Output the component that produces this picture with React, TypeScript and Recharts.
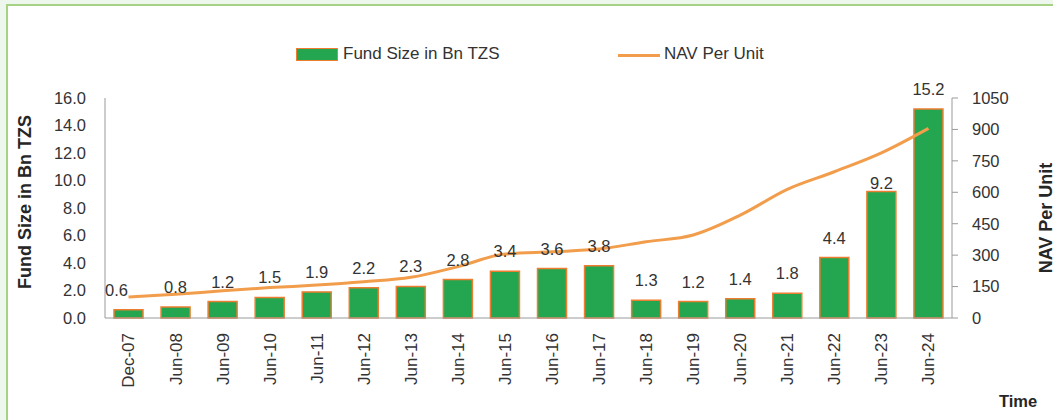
/**
 * Fund Size vs NAV Per Unit - bars for fund size, line for NAV.
 */
import { ComposedChart, Bar, Line, XAxis, YAxis, LabelList } from 'recharts'

const periods = [
  'Dec-07', 'Jun-08', 'Jun-09', 'Jun-10', 'Jun-11', 'Jun-12', 'Jun-13', 'Jun-14', 'Jun-15',
  'Jun-16', 'Jun-17', 'Jun-18', 'Jun-19', 'Jun-20', 'Jun-21', 'Jun-22', 'Jun-23', 'Jun-24',
]
const fundSize = [0.6, 0.8, 1.2, 1.5, 1.9, 2.2, 2.3, 2.8, 3.4, 3.6, 3.8, 1.3, 1.2, 1.4, 1.8, 4.4, 9.2, 15.2]
const navPerUnit = [100, 113, 130, 145, 157, 173, 194, 245, 305, 316, 329, 364, 396, 491, 614, 698, 788, 905]
const fundTicks = [0, 2, 4, 6, 8, 10, 12, 14, 16]
const navTicks = [0, 150, 300, 450, 600, 750, 900, 1050]

const data = periods.map((period, i) => ({
  period,
  fund: fundSize[i],
  nav: navPerUnit[i],
}))

const GREEN = '#23a64f'
const BAR_EDGE = '#ed7d31'
const LINE = '#f29d4b'
const AXIS = '#9a9a9a'
const TEXT = '#333333'
const FONT = '"Liberation Sans", Arial, sans-serif'

// a couple of labels were hand-placed in the original
const labelNudge: Record<string, { dx: number; dy: number }> = {
  'Dec-07': { dx: -12, dy: 0 },
  'Jun-23': { dx: 0, dy: 11 },
}

const BarLabel = (props: any) => {
  const { x, y, width, value, index } = props
  const nudge = labelNudge[periods[index]] || { dx: 0, dy: 0 }
  return (
    <text
      x={x + width / 2 + nudge.dx}
      y={y - 14 + nudge.dy}
      textAnchor="middle"
      fontSize={16.5}
      fill={TEXT}
      fontFamily={FONT}
    >
      {Number(value).toFixed(1)}
    </text>
  )
}

const XTick = (props: any) => {
  const { x, y, payload } = props
  return (
    <g transform={`translate(${x},${y + 15})`}>
      <text
        transform="rotate(-90)"
        textAnchor="end"
        dy="0.35em"
        fontSize={17}
        fill={TEXT}
        fontFamily={FONT}
      >
        {payload.value}
      </text>
    </g>
  )
}

const ChartLegend = () => (
  <div style={{ position: 'absolute', left: 0, top: 0, width: 1053, height: 80, fontFamily: FONT, fontSize: 17, color: TEXT }}>
    <div
      style={{
        position: 'absolute',
        left: 296,
        top: 48,
        width: 40,
        height: 11,
        background: GREEN,
        border: `1.5px solid ${BAR_EDGE}`,
      }}
    />
    <span style={{ position: 'absolute', left: 343, top: 44, lineHeight: '20px' }}>Fund Size in Bn TZS</span>
    <div style={{ position: 'absolute', left: 618, top: 54, width: 42, height: 3, background: LINE }} />
    <span style={{ position: 'absolute', left: 664, top: 44, lineHeight: '20px' }}>NAV Per Unit</span>
  </div>
)

export default function App() {
  return (
    <div
      style={{
        position: 'absolute',
        left: 0,
        top: 0,
        width: 1053,
        height: 420,
        overflow: 'hidden',
        background: '#eef7ee',
      }}
    >
      <div
        style={{
          position: 'absolute',
          left: 6,
          top: 4,
          width: 1080,
          height: 440,
          background: '#fff',
          border: '2px solid #a6d286',
        }}
      />
      <ChartLegend />
      <div style={{ position: 'absolute', left: 0, top: 0 }}>
        <ComposedChart
          width={1053}
          height={420}
          data={data}
          margin={{ top: 98, right: 0, bottom: 0, left: 0 }}
        >
          <XAxis
            dataKey="period"
            height={102}
            interval={0}
            tickLine={false}
            tickSize={0}
            tickMargin={0}
            stroke={AXIS}
            tick={<XTick />}
          />
          <YAxis
            yAxisId="fund"
            orientation="left"
            width={105}
            domain={[0, 16]}
            ticks={fundTicks}
            interval={0}
            tickFormatter={(v: number) => v.toFixed(1)}
            tickLine={false}
            tickSize={0}
            tickMargin={19}
            stroke={AXIS}
            tick={{ fill: TEXT, fontSize: 16.5, fontFamily: FONT }}
          />
          <YAxis
            yAxisId="nav"
            orientation="right"
            width={101}
            domain={[0, 1050]}
            ticks={navTicks}
            interval={0}
            tickSize={6}
            tickMargin={14}
            stroke={AXIS}
            tick={{ fill: TEXT, fontSize: 16.5, fontFamily: FONT }}
          />
          <Bar
            yAxisId="fund"
            dataKey="fund"
            name="Fund Size in Bn TZS"
            fill={GREEN}
            stroke={BAR_EDGE}
            strokeWidth={1.5}
            barSize={29}
            isAnimationActive={false}
          >
            <LabelList dataKey="fund" content={<BarLabel />} />
          </Bar>
          <Line
            yAxisId="nav"
            dataKey="nav"
            name="NAV Per Unit"
            type="monotone"
            stroke={LINE}
            strokeWidth={3}
            dot={false}
            activeDot={false}
            isAnimationActive={false}
          />
          <text
            transform="translate(25,202) rotate(-90)"
            textAnchor="middle"
            dominantBaseline="central"
            fontSize={18}
            fontWeight="bold"
            fill="#262626"
            fontFamily={FONT}
          >
            Fund Size in Bn TZS
          </text>
          <text
            transform="translate(1046,218) rotate(-90)"
            textAnchor="middle"
            dominantBaseline="central"
            fontSize={18}
            fontWeight="bold"
            fill="#262626"
            fontFamily={FONT}
          >
            NAV Per Unit
          </text>
          <text x={999} y={407} fontSize={16.5} fontWeight="bold" fill="#262626" fontFamily={FONT}>
            Time
          </text>
        </ComposedChart>
      </div>
    </div>
  )
}
